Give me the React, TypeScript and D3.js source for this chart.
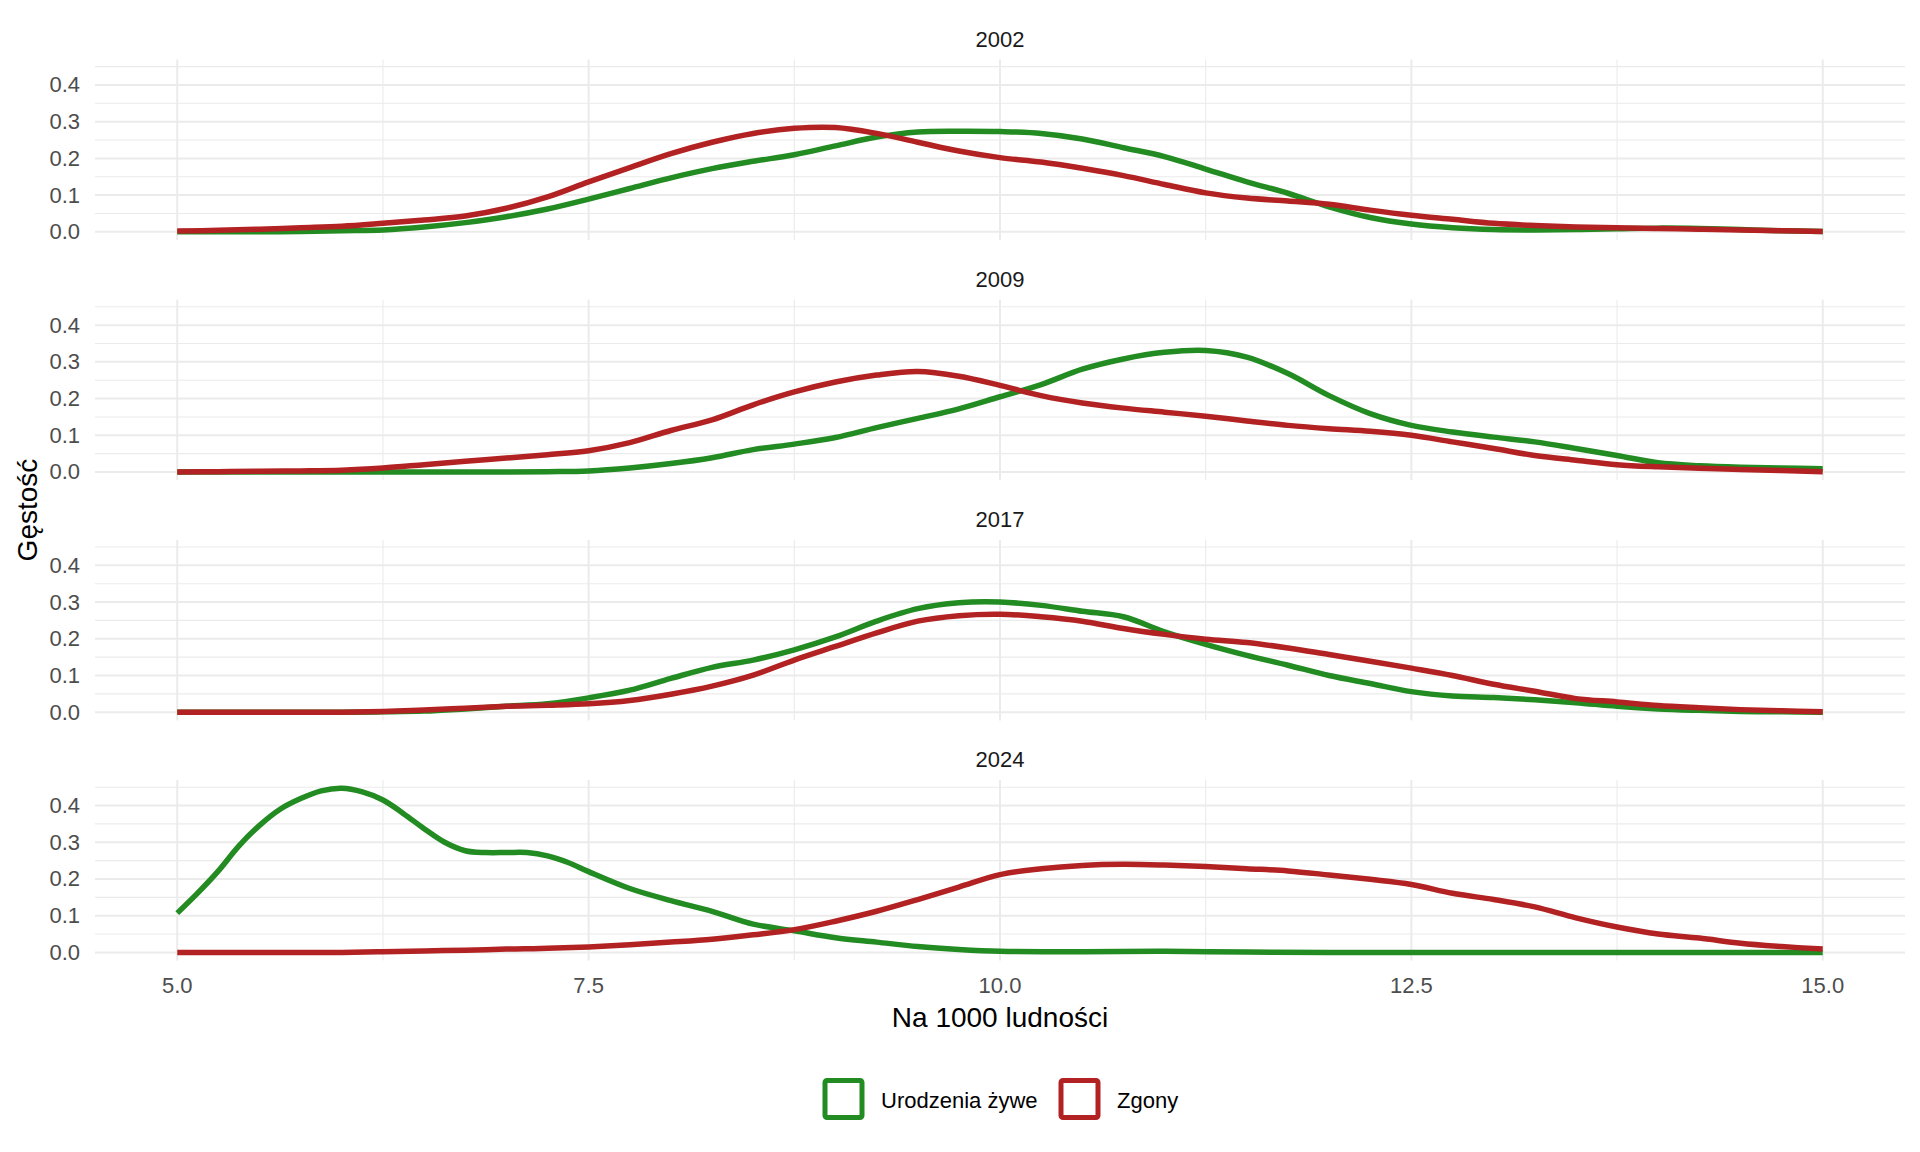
import * as d3 from 'd3';
import { useEffect } from 'react';

// density estimates, per year and series
const years = ['2002', '2009', '2017', '2024'];
const seriesNames = ['Urodzenia żywe', 'Zgony'];
const seriesColors = ['#228B22', '#B22222'];

const xGrid = [
  5, 5.25, 5.5, 5.75, 6, 6.25, 6.5, 6.75, 7, 7.25, 7.5, 7.75, 8, 8.25, 8.5, 8.75, 9, 9.25, 9.5, 9.75,
  10, 10.25, 10.5, 10.75, 11, 11.25, 11.5, 11.75, 12, 12.25, 12.5, 12.75, 13, 13.25, 13.5, 13.75, 14, 14.25,
  14.5, 14.75, 15,
];

const births2002 = [
  0, 0, 0, 0.001, 0.003, 0.005, 0.013, 0.025, 0.041, 0.062, 0.089, 0.118, 0.147, 0.172, 0.192, 0.21, 0.234,
  0.258, 0.272, 0.274, 0.273, 0.268, 0.253, 0.229, 0.205, 0.171, 0.136, 0.105, 0.068, 0.039, 0.021, 0.011,
  0.006, 0.005, 0.006, 0.008, 0.01, 0.009, 0.006, 0.003, 0.001,
];
const deaths2002 = [
  0.002, 0.004, 0.007, 0.011, 0.015, 0.023, 0.032, 0.043, 0.064, 0.095, 0.136, 0.175, 0.213, 0.244, 0.268,
  0.282, 0.284, 0.268, 0.244, 0.22, 0.202, 0.19, 0.173, 0.153, 0.129, 0.106, 0.092, 0.084, 0.075, 0.059, 0.045,
  0.034, 0.023, 0.017, 0.013, 0.011, 0.009, 0.007, 0.005, 0.003, 0.001,
];

const births2009 = [
  0, 0, 0, 0, 0, 0, 0, 0, 0, 0.001, 0.003, 0.011, 0.023, 0.039, 0.061, 0.076, 0.094, 0.121, 0.146, 0.172,
  0.205, 0.238, 0.28, 0.308, 0.326, 0.331, 0.313, 0.268, 0.208, 0.159, 0.127, 0.109, 0.095, 0.082, 0.064,
  0.045, 0.025, 0.017, 0.013, 0.011, 0.009,
];
const deaths2009 = [
  0, 0.001, 0.002, 0.003, 0.005, 0.011, 0.02, 0.029, 0.038, 0.047, 0.058, 0.08, 0.113, 0.142, 0.183, 0.218,
  0.245, 0.264, 0.274, 0.261, 0.236, 0.208, 0.188, 0.174, 0.163, 0.152, 0.139, 0.127, 0.118, 0.111, 0.1, 0.082,
  0.064, 0.045, 0.032, 0.02, 0.014, 0.01, 0.007, 0.004, 0.001,
];

const births2017 = [
  0, 0, 0, 0, 0, 0.001, 0.003, 0.009, 0.016, 0.023, 0.039, 0.06, 0.092, 0.122, 0.142, 0.17, 0.205, 0.248,
  0.282, 0.298, 0.3, 0.291, 0.275, 0.26, 0.219, 0.185, 0.155, 0.128, 0.1, 0.078, 0.056, 0.044, 0.04, 0.034,
  0.026, 0.016, 0.009, 0.005, 0.002, 0.001, 0,
];
const deaths2017 = [
  0, 0, 0, 0, 0, 0.002, 0.006, 0.011, 0.016, 0.019, 0.023, 0.032, 0.049, 0.071, 0.101, 0.142, 0.179, 0.216,
  0.248, 0.263, 0.267, 0.26, 0.248, 0.228, 0.212, 0.199, 0.19, 0.175, 0.157, 0.139, 0.12, 0.1, 0.076, 0.057,
  0.037, 0.028, 0.018, 0.012, 0.007, 0.004, 0.001,
];

const xBirths2024 = [
  5, 5.125, 5.25, 5.375, 5.5, 5.625, 5.75, 5.875, 6, 6.125, 6.25, 6.375, 6.5, 6.625, 6.75, 6.875, 7, 7.125,
  7.25, 7.375, 7.5, 7.75, 8, 8.25, 8.5, 8.75, 9, 9.25, 9.5, 9.75, 10, 10.5, 11, 11.5, 12, 13, 14, 15,
];
const births2024 = [
  0.107, 0.162, 0.222, 0.29, 0.346, 0.39, 0.419, 0.44, 0.447, 0.437, 0.415, 0.378, 0.337, 0.3, 0.277, 0.272,
  0.272, 0.272, 0.263, 0.245, 0.22, 0.174, 0.141, 0.112, 0.077, 0.059, 0.04, 0.028, 0.016, 0.008, 0.003,
  0.002, 0.003, 0.001, 0, 0, 0, 0,
];
const deaths2024 = [
  0, 0, 0, 0, 0, 0.002, 0.004, 0.006, 0.009, 0.011, 0.015, 0.021, 0.028, 0.036, 0.048, 0.062, 0.085, 0.112,
  0.144, 0.178, 0.212, 0.228, 0.237, 0.24, 0.238, 0.234, 0.228, 0.222, 0.211, 0.199, 0.185, 0.161, 0.144,
  0.124, 0.094, 0.069, 0.05, 0.039, 0.025, 0.016, 0.009,
];

const xTicks = [5, 7.5, 10, 12.5, 15];
const yTicks = [0, 0.1, 0.2, 0.3, 0.4];

const panels = [
  { year: years[0], lines: [{ xs: xGrid, ys: births2002 }, { xs: xGrid, ys: deaths2002 }] },
  { year: years[1], lines: [{ xs: xGrid, ys: births2009 }, { xs: xGrid, ys: deaths2009 }] },
  { year: years[2], lines: [{ xs: xGrid, ys: births2017 }, { xs: xGrid, ys: deaths2017 }] },
  { year: years[3], lines: [{ xs: xBirths2024, ys: births2024 }, { xs: xGrid, ys: deaths2024 }] },
];

const W = 1920;
const H = 1152;
const left = 95;
const right = 1905;
const firstTop = 59.5;
const panelH = 180.5;
const panelStep = 240.2;
const font = '"Liberation Sans", Arial, sans-serif';

const App = () => {
  useEffect(() => {
    document.body.style.margin = '0';
  }, []);

  const xExt = [5, 15];
  const xPad = (xExt[1] - xExt[0]) * 0.05;
  const x = d3.scaleLinear().domain([xExt[0] - xPad, xExt[1] + xPad]).range([left, right]);

  const allY = panels.flatMap((p) => p.lines.flatMap((l) => l.ys));
  const yMax = d3.max(allY) || 0;
  const yPad = yMax * 0.05;

  const xMinor = xTicks.slice(1).map((t, i) => (t + xTicks[i]) / 2);
  const yMinor = yTicks.map((t) => t + 0.05).filter((t) => t < yMax + yPad);
  const fmt = d3.format('.1f');

  const lastBottom = firstTop + 3 * panelStep + panelH;

  return (
    <svg width={W} height={H} style={{ display: 'block', background: '#fff', fontFamily: font }}>
      {panels.map((p, pi) => {
        const top = firstTop + pi * panelStep;
        const y = d3.scaleLinear().domain([-yPad, yMax + yPad]).range([top + panelH, top]);
        const line = d3
          .line<[number, number]>()
          .x((d) => x(d[0]))
          .y((d) => y(d[1]))
          .curve(d3.curveCatmullRom.alpha(0.5));
        return (
          <g key={p.year}>
            {yMinor.map((t) => (
              <line key={'ym' + t} x1={left} x2={right} y1={y(t)} y2={y(t)} stroke="#EBEBEB" strokeWidth={1.1} />
            ))}
            {xMinor.map((t) => (
              <line key={'xm' + t} x1={x(t)} x2={x(t)} y1={top} y2={top + panelH} stroke="#EBEBEB" strokeWidth={1.1} />
            ))}
            {yTicks.map((t) => (
              <line key={'yM' + t} x1={left} x2={right} y1={y(t)} y2={y(t)} stroke="#EBEBEB" strokeWidth={2} />
            ))}
            {xTicks.map((t) => (
              <line key={'xM' + t} x1={x(t)} x2={x(t)} y1={top} y2={top + panelH} stroke="#EBEBEB" strokeWidth={2} />
            ))}
            {yTicks.map((t) => (
              <text
                key={'yl' + t}
                x={80}
                y={y(t)}
                textAnchor="end"
                dominantBaseline="central"
                fontSize={22}
                fill="#4D4D4D"
              >
                {fmt(t)}
              </text>
            ))}
            <text x={x(10)} y={top - 20.5} textAnchor="middle" dominantBaseline="central" fontSize={22} fill="#1A1A1A">
              {p.year}
            </text>
            {p.lines.map((l, li) => (
              <path
                key={li}
                d={line(l.xs.map((v, i) => [v, l.ys[i]] as [number, number])) || ''}
                fill="none"
                stroke={seriesColors[li]}
                strokeWidth={5.5}
                strokeLinejoin="round"
              />
            ))}
          </g>
        );
      })}

      {xTicks.map((t) => (
        <text
          key={'xl' + t}
          x={x(t)}
          y={lastBottom + 24.4}
          textAnchor="middle"
          dominantBaseline="central"
          fontSize={22}
          fill="#4D4D4D"
        >
          {fmt(t)}
        </text>
      ))}

      <text x={x(10)} y={1017} textAnchor="middle" dominantBaseline="central" fontSize={28} fill="#000">
        Na 1000 ludności
      </text>
      <text
        transform={`translate(27, ${(firstTop + lastBottom) / 2}) rotate(-90)`}
        textAnchor="middle"
        dominantBaseline="central"
        fontSize={28}
        fill="#000"
      >
        Gęstość
      </text>

      {/* legend */}
      <g>
        <rect x={825} y={1080.5} width={37} height={37} rx={2} fill="#fff" stroke={seriesColors[0]} strokeWidth={5} />
        <text x={881} y={1100} dominantBaseline="central" fontSize={22} fill="#000">
          {seriesNames[0]}
        </text>
        <rect x={1061} y={1080.5} width={37} height={37} rx={2} fill="#fff" stroke={seriesColors[1]} strokeWidth={5} />
        <text x={1117} y={1100} dominantBaseline="central" fontSize={22} fill="#000">
          {seriesNames[1]}
        </text>
      </g>
    </svg>
  );
};

export default App;
